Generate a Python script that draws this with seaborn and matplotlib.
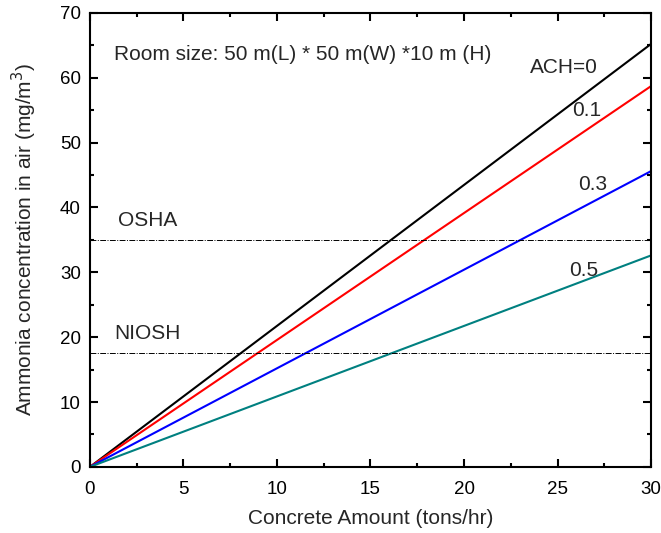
import matplotlib
matplotlib.use("Agg")
import matplotlib.pyplot as plt
import seaborn as sns
import numpy as np
import pandas as pd
from matplotlib.ticker import MultipleLocator

sns.set_style("ticks")
plt.rcParams['font.family'] = ['Liberation Sans', 'DejaVu Sans']

x_vals = [0, 30]
ach_labels = ["ACH=0", "0.1", "0.3", "0.5"]
end_values = [65.2, 58.7, 45.6, 32.6]
colors = ["#000000", "#ff0000", "#0000ff", "#008080"]
label_pos = [(23.5, 61.5), (25.8, 55.0), (26.1, 43.6), (25.6, 30.2)]
osha = 35.0
niosh = 17.5

rows = []
for lab, v in zip(ach_labels, end_values):
    for xv, yv in zip(x_vals, [0, v]):
        rows.append({"x": xv, "y": yv, "ACH": lab})
df = pd.DataFrame(rows)

fig = plt.figure(figsize=(6.61, 5.33), dpi=100)
ax = fig.add_axes([0.136, 0.124, 0.849, 0.852])
sns.lineplot(data=df, x="x", y="y", hue="ACH", palette=colors, ax=ax,
             linewidth=1.5, legend=False)

ax.axhline(osha, color="black", lw=0.7, ls=(0, (6, 1.5, 1, 1.5)))
ax.axhline(niosh, color="black", lw=0.7, ls=(0, (6, 1.5, 1, 1.5)))

fs = 15
for lab, (tx, ty) in zip(ach_labels, label_pos):
    ax.text(tx, ty, lab, fontsize=fs, va="center", ha="left")
ax.text(1.3, 63.5, "Room size: 50 m(L) * 50 m(W) *10 m (H)", fontsize=fs, va="center")
ax.text(1.5, 38.0, "OSHA", fontsize=fs, va="center")
ax.text(1.3, 20.6, "NIOSH", fontsize=fs, va="center")

ax.set_xlim(0, 30)
ax.set_ylim(0, 70)
ax.xaxis.set_major_locator(MultipleLocator(5))
ax.xaxis.set_minor_locator(MultipleLocator(2.5))
ax.yaxis.set_major_locator(MultipleLocator(10))
ax.yaxis.set_minor_locator(MultipleLocator(5))
ax.tick_params(which="both", direction="in", top=True, right=True, labelsize=13.5,
               width=1.5, colors="black")
ax.tick_params(axis="x", which="both", pad=10.5)
ax.tick_params(axis="y", which="both", pad=6.5)
ax.tick_params(which="major", length=6)
ax.tick_params(which="minor", length=3)
for s in ax.spines.values():
    s.set_linewidth(1.5)
    s.set_color("black")
ax.set_xlabel("Concrete Amount (tons/hr)", fontsize=15, labelpad=7.5)
ax.set_ylabel("Ammonia concentration in air (mg/m$^3$)", fontsize=15, labelpad=15)

fig.savefig("out.png", dpi=100)
